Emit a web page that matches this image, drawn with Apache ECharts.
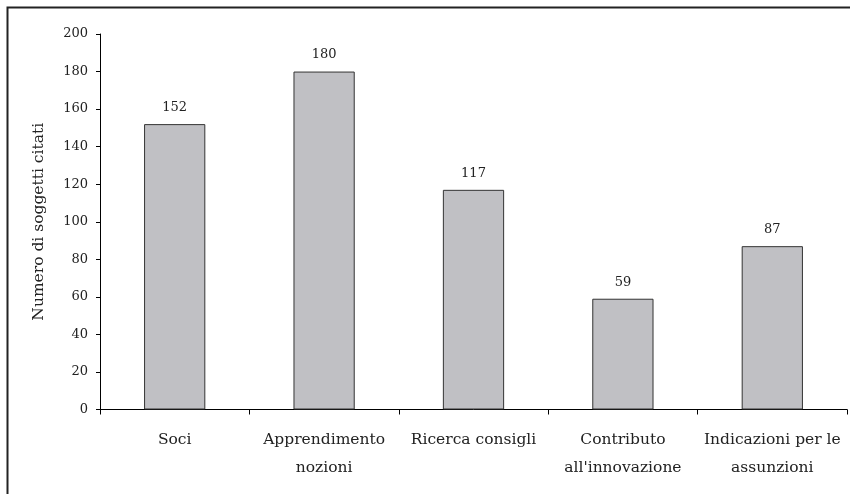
<!DOCTYPE html>
<html>
<head>
<meta charset="utf-8">
<script src="https://cdn.jsdelivr.net/npm/echarts@6/dist/echarts.min.js"></script>
<style>html,body{margin:0;padding:0;background:#fff;}#c{width:850px;height:494px;}</style>
</head>
<body>
<div id="c"></div>
<script>
var categories = ["Soci", "Apprendimento\nnozioni", "Ricerca consigli", "Contributo\nall'innovazione", "Indicazioni per le\nassunzioni"];
var values = [152, 180, 117, 59, 87];
var yAxisName = "Numero di soggetti citati";

var chart = echarts.init(document.getElementById('c'), null, {renderer: 'canvas'});
var font = "'DejaVu Serif', 'Liberation Serif', serif";
chart.setOption({
  animation: false,
  backgroundColor: '#fff',
  graphic: [{
    type: 'rect', left: 5, top: 5,
    shape: {width: 900, height: 600},
    style: {fill: 'none', stroke: '#222', lineWidth: 2},
    silent: true
  }],
  grid: {left: 100, right: 3, top: 34, bottom: 84.5, containLabel: false},
  xAxis: {
    type: 'category',
    data: categories,
    axisLine: {lineStyle: {color: '#000', width: 1}},
    axisTick: {show: true, length: 5, lineStyle: {color: '#000'}},
    axisLabel: {color: '#222', fontFamily: font, fontSize: 15.5, margin: 16, lineHeight: 28, interval: 0}
  },
  yAxis: {
    type: 'value',
    min: 0, max: 200, interval: 20,
    name: yAxisName,
    nameLocation: 'middle',
    nameGap: 53,
    nameTextStyle: {color: '#222', fontFamily: font, fontSize: 15.5},
    axisLine: {show: true, lineStyle: {color: '#000', width: 1}},
    axisTick: {show: true, length: 4, lineStyle: {color: '#000'}},
    splitLine: {show: false},
    axisLabel: {color: '#222', fontFamily: font, fontSize: 13, margin: 12}
  },
  series: [{
    type: 'bar',
    data: values,
    barWidth: '41%',
    itemStyle: {color: '#c0c0c4', borderColor: '#333', borderWidth: 1},
    label: {show: true, position: 'top', distance: 10, color: '#222', fontFamily: font, fontSize: 13}
  }]
});
</script>
</body>
</html>
